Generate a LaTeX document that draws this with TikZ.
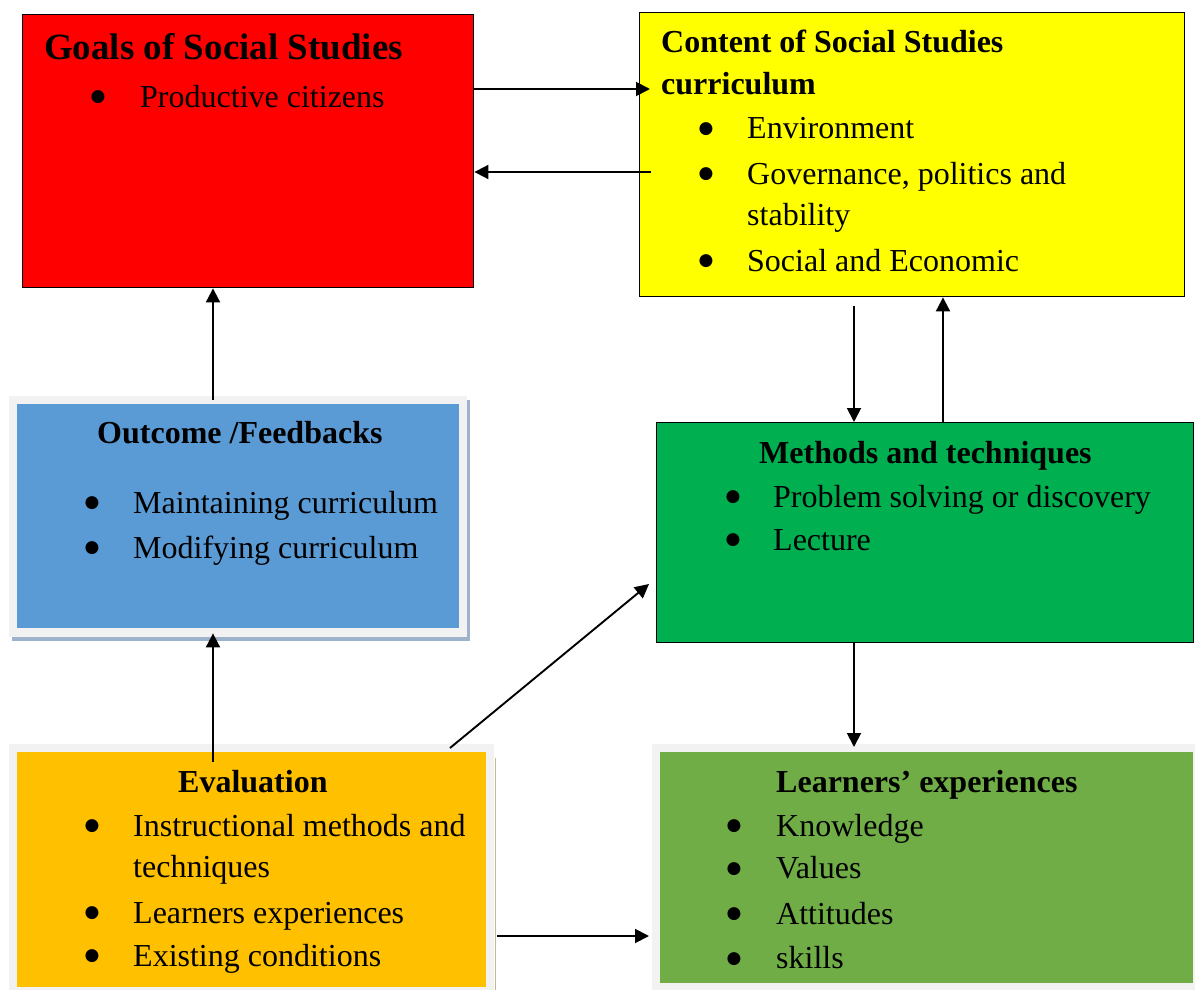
\documentclass[tikz,border=0pt]{standalone}
\usepackage{fontspec}
\setmainfont{Liberation Serif}
\newfontfamily\dotfont{DejaVu Sans}
\usetikzlibrary{arrows.meta,calc}
\definecolor{cRed}{HTML}{FF0000}
\definecolor{cYellow}{HTML}{FFFF00}
\definecolor{cBlue}{HTML}{5B9BD5}
\definecolor{cGreen}{HTML}{00B050}
\definecolor{cOrange}{HTML}{FFC000}
\definecolor{cLight}{HTML}{70AD47}
\definecolor{cFrame}{HTML}{F2F2F2}
\definecolor{cShadow}{HTML}{9DB3CC}
\definecolor{cTan}{HTML}{C8B88A}
\begin{document}
\begin{tikzpicture}[x=1pt,y=-1pt,
  boxb/.style={anchor=north west, inner sep=0pt, draw=black, line width=1.4pt},
  boxf/.style={anchor=north west, inner sep=0pt},
  body/.style={anchor=base west, inner sep=0pt, font=\fontsize{32}{38}\selectfont},
  head/.style={anchor=base west, inner sep=0pt, font=\fontsize{32}{38}\selectfont\bfseries},
  bigHead/.style={anchor=base west, inner sep=0pt, font=\fontsize{37}{44}\selectfont\bfseries},
  bul/.style={anchor=center, inner sep=0pt, font=\dotfont\fontsize{17}{20}\selectfont},
  arr/.style={line width=1.9pt, -{Triangle[length=14pt,width=14pt]}}]
\useasboundingbox (0,0) rectangle (1195,990);

% frames of the shaded boxes
\fill[cShadow] (12,400) rectangle (470,641);
\fill[cFrame] (9,396) rectangle (467,637);
\fill[cFrame] (9,744) rectangle (494,990);
\draw[cTan, line width=1.5pt] (495.5,758) -- (495.5,990);
\fill[cFrame] (652,744) rectangle (1195,990);

% boxes
\node[boxb, fill=cRed, minimum width=451pt, minimum height=273pt] (goals) at (22,14) {};
\node[boxb, fill=cYellow, minimum width=545pt, minimum height=284pt] (content) at (639,12) {};
\node[boxf, fill=cBlue, minimum width=442pt, minimum height=224pt] (outcome) at (17,404) {};
\node[boxb, fill=cGreen, minimum width=537pt, minimum height=220pt] (methods) at (656,422) {};
\node[boxf, fill=cOrange, minimum width=469pt, minimum height=235pt] (evaluation) at (17,752) {};
\node[boxf, fill=cLight, minimum width=533pt, minimum height=231pt] (learners) at (660,752) {};

% texts: goals
\node[bigHead] (g0) at (44,60) {Goals of Social Studies};
\node[bul] (gb1) at (98,97) {●};
\node[body] (g1) at (140,107) {Productive citizens};

% content
\node[head] (c0) at (661,53) {Content of Social Studies};
\node[head] (c0b) at (661,95) {curriculum};
\node[bul] (cb1) at (706,129) {●};
\node[body] (c1) at (747,139) {Environment};
\node[bul] (cb2) at (706,174) {●};
\node[body] (c2) at (747,184) {Governance, politics and};
\node[body] (c2b) at (747,225) {stability};
\node[bul] (cb3) at (706,261) {●};
\node[body] (c3) at (747,271) {Social and Economic};

% outcome
\node[head] (o0) at (97,443) {Outcome /Feedbacks};
\node[bul] (ob1) at (92,503) {●};
\node[body] (o1) at (133,513) {Maintaining curriculum};
\node[bul] (ob2) at (92,548) {●};
\node[body] (o2) at (133,558) {Modifying curriculum};

% methods
\node[head] (m0) at (759,463) {Methods and techniques};
\node[bul] (mb1) at (733,497) {●};
\node[body] (m1) at (773,507) {Problem solving or discovery};
\node[bul] (mb2) at (733,540) {●};
\node[body] (m2) at (773,550) {Lecture};

% evaluation
\node[head] (e0) at (178,792) {Evaluation};
\node[bul] (eb1) at (92,826) {●};
\node[body] (e1) at (133,836) {Instructional methods and};
\node[body] (e1b) at (133,877) {techniques};
\node[bul] (eb2) at (92,913) {●};
\node[body] (e2) at (133,923) {Learners experiences};
\node[bul] (eb3) at (92,956) {●};
\node[body] (e3) at (133,966) {Existing conditions};

% learners
\node[head] (l0) at (776,792) {Learners’ experiences};
\node[bul] (lb1) at (734,826) {●};
\node[body] (l1) at (776,836) {Knowledge};
\node[bul] (lb2) at (734,869) {●};
\node[body] (l2) at (776,878) {Values};
\node[bul] (lb3) at (734,914) {●};
\node[body] (l3) at (776,924) {Attitudes};
\node[bul] (lb4) at (734,959) {●};
\node[body] (l4) at (776,968) {skills};

% free ends
\coordinate (d1) at (854,306);
\coordinate (e1s) at (213,762);
\coordinate (e2s) at (450,748);

% connectors
\draw[arr] (goals.east |- 0,89) -- ($(content.west |- 0,89)+(11,0)$);
\draw[arr] ($(content.west |- 0,172)+(12,0)$) -- (goals.east |- 0,172);
\draw[arr] (d1) -- (d1 |- methods.north);
\draw[arr] (methods.north -| 943,0) -- (content.south -| 943,0);
\draw[arr] ($(outcome.north -| 213,0)+(0,-4)$) -- (goals.south -| 213,0);
\draw[arr] (e1s) -- ($(outcome.south -| 213,0)+(0,5)$);
\draw[arr] (e2s) -- ($(methods.west |- 0,584)+(-7,0)$);
\draw[arr] (methods.south -| 854,0) -- ($(learners.north -| 854,0)+(0,-5)$);
\draw[arr] ($(evaluation.east |- 0,936)+(11,0)$) -- ($(learners.west |- 0,936)+(-11,0)$);
\end{tikzpicture}
\end{document}
